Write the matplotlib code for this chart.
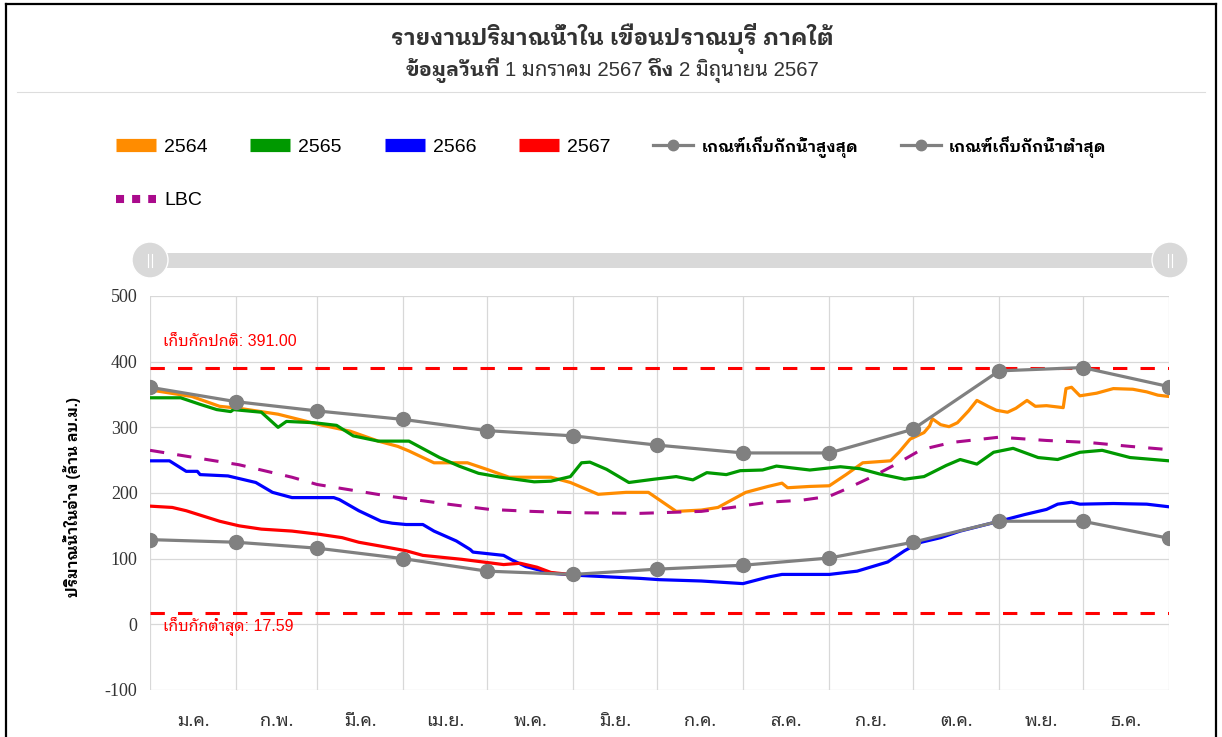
import numpy as np
import matplotlib
matplotlib.use('Agg')
import matplotlib.pyplot as plt
from matplotlib.lines import Line2D
from matplotlib.patches import Rectangle, Circle

THAI = 'Noto Sans Thai Looped'
THAI_B = 'IBM Plex Sans Thai Looped'   # has a real bold face
plt.rcParams['font.family'] = ['Liberation Sans', THAI]
plt.rcParams['axes.unicode_minus'] = False
BOLD = ['Liberation Sans', THAI_B]

# ---------------- data (day of year 2567, value in ล้าน ลบ.ม.) ----------------
months = ['ม.ค.', 'ก.พ.', 'มี.ค.', 'เม.ย.', 'พ.ค.', 'มิ.ย.',
          'ก.ค.', 'ส.ค.', 'ก.ย.', 'ต.ค.', 'พ.ย.', 'ธ.ค.']
month_start = [0, 31, 60, 91, 121, 152, 182, 213, 244, 274, 305, 335, 366]

or_day = [0, 15, 25, 32, 46, 61, 72, 82, 89, 93, 102, 114, 121, 129, 144, 151, 161, 171, 179, 189,
          198, 204, 214, 222, 227, 229, 237, 244, 250, 256, 266, 269, 273, 278, 280, 281, 284, 287, 290, 294,
          297, 301, 304, 308, 311, 315, 318, 322, 328, 329, 331, 334, 340, 346, 353, 358, 362, 366]
or_val = [357, 347, 332, 329, 320, 304, 294, 279, 271, 264, 246, 246, 236, 224, 224, 216, 198, 201, 201, 172,
          174, 178, 201, 210, 215, 208, 210, 211, 228, 246, 249, 262, 282, 292, 302, 313, 304, 301, 307, 325,
          341, 332, 326, 323, 329, 341, 332, 333, 330, 359, 361, 348, 352, 359, 358, 354, 349, 347]

gr_day = [0, 11, 18, 24, 29, 30, 40, 46, 49, 59, 67, 73, 82, 93, 104, 111, 118, 126, 138, 144,
          151, 155, 158, 164, 172, 181, 189, 195, 200, 207, 212, 220, 225, 237, 248, 255, 262, 271, 278, 286,
          291, 297, 303, 310, 319, 326, 334, 342, 352, 366]
gr_val = [345, 345, 335, 327, 324, 327, 323, 300, 309, 307, 303, 287, 279, 279, 254, 241, 230, 224, 217, 218,
          225, 246, 247, 236, 216, 221, 225, 220, 231, 228, 234, 235, 241, 235, 240, 237, 229, 221, 225, 242,
          251, 244, 262, 268, 254, 251, 262, 265, 254, 249]

bl_day = [0, 7, 13, 17, 18, 28, 32, 38, 44, 51, 66, 68, 75, 83, 87, 92, 98, 102, 110, 115,
          116, 127, 130, 135, 144, 152, 166, 176, 183, 198, 213, 222, 227, 244, 254, 265, 271, 274, 277, 284,
          291, 305, 314, 322, 326, 331, 334, 346, 358, 366]
bl_val = [249, 249, 233, 233, 228, 226, 222, 216, 201, 193, 193, 190, 173, 157, 154, 152, 152, 142, 127, 114,
          110, 105, 98, 88, 78, 75, 72, 70, 68, 66, 62, 72, 76, 76, 81, 95, 112, 119, 125, 132,
          142, 157, 167, 175, 183, 186, 183, 184, 183, 179]

rd_day = [0, 8, 13, 19, 25, 32, 40, 51, 61, 69, 75, 83, 92, 98, 112, 127, 133, 139, 144, 153]
rd_val = [180, 178, 173, 165, 157, 150, 145, 142, 137, 132, 125, 119, 112, 105, 99, 91, 93, 87, 79, 75]

rule_max = [361, 339, 325, 312, 295, 287, 273, 261, 261, 297, 386, 391, 362]
rule_min = [129, 125, 116, 100, 81, 76, 84, 90, 101, 125, 157, 157, 131]

lbc_day = [0, 32, 51, 60, 86, 107, 122, 137, 152, 176, 198, 209, 222, 234, 244, 250, 260, 268, 277, 288,
           305, 322, 337, 352, 366]
lbc_val = [265, 243, 224, 213, 195, 183, 175, 172, 170, 169, 172, 178, 186, 189, 195, 206, 226, 244, 266, 277,
           285, 280, 277, 271, 266]

normal_level = 391.00
min_level = 17.59

years = ['2564', '2565', '2566', '2567']
colors = ['#ff8c00', '#009900', '#0000ff', '#ff0000']
gray = '#808080'
purple = '#aa0a8c'
txt = '#333333'

W, H = 1222, 737
fig = plt.figure(figsize=(W / 100, H / 100), dpi=100)

# overlay in pixel coords for frame, title, slider
ov = fig.add_axes([0, 0, 1, 1])
ov.set_xlim(0, W)
ov.set_ylim(H, 0)
ov.axis('off')

ov.plot([6, 6], [4, H], color='black', lw=1.6)
ov.plot([6, 1216], [4, 4], color='black', lw=1.6)
ov.plot([1216, 1216], [4, H], color='black', lw=1.6)
ov.plot([17, 1205], [92, 92], color='#dddddd', lw=0.8)

ov.text(612, 45, 'รายงานปริมาณน้ำใน เขื่อนปราณบุรี ภาคใต้', ha='center', va='baseline',
        fontsize=16.3, fontweight='bold', family=BOLD, color=txt)

# subtitle with mixed weights
pieces = [('ข้อมูลวันที่', 'bold'), ('1 มกราคม 2567', 'normal'), ('ถึง', 'bold'), ('2 มิถุนายน 2567', 'normal')]
parts = []
for s, w in pieces:
    fam = BOLD if w == 'bold' else ['Liberation Sans', THAI]
    parts.append(ov.text(0, 76, s, ha='left', va='baseline', fontsize=14.7, fontweight=w,
                         family=fam, color=txt))
fig.canvas.draw()
rend = fig.canvas.get_renderer()
gap = 5
widths = [p.get_window_extent(rend).width for p in parts]
x = 612 - (sum(widths) + gap * (len(parts) - 1)) / 2
for p, wd in zip(parts, widths):
    p.set_x(x)
    x += wd + gap

# range slider
ov.add_patch(Rectangle((150, 253), 1020, 15, color='#d9d9d9', lw=0))
for cx in [150, 1170]:
    ov.add_patch(Circle((cx, 260), 18, facecolor='#d9d9d9', edgecolor='white', lw=1))
    ov.plot([cx - 2, cx - 2], [254, 267], color='white', lw=0.8)
    ov.plot([cx + 2, cx + 2], [254, 267], color='white', lw=0.8)

# ---------------- main chart ----------------
ax = fig.add_axes([150 / W, 47 / H, 1019 / W, 394 / H])
ax.set_xlim(0, 366)
ax.set_ylim(-100, 500)
for s in ax.spines.values():
    s.set_visible(False)

ax.set_yticks(np.arange(-100, 501, 100))
ax.set_xticks(month_start, minor=True)
mid = [(a + b) / 2 for a, b in zip(month_start[:-1], month_start[1:])]
ax.set_xticks(mid)
ax.set_xticklabels(months, family=THAI, fontsize=13, color=txt)
ax.grid(which='minor', axis='x', color='#d8d8d8', lw=0.9)
ax.grid(which='major', axis='y', color='#d8d8d8', lw=0.9)
ax.tick_params(which='both', length=0)
ax.tick_params(axis='x', pad=16)
ax.tick_params(axis='y', pad=9, labelsize=13, labelcolor=txt)
for lab in ax.get_yticklabels():
    lab.set_family(['Liberation Serif', THAI])

dash = (0, (4.7, 4.3))
ax.axhline(normal_level, color='red', lw=2.2, ls=dash, zorder=2)
ax.axhline(min_level, color='red', lw=2.2, ls=dash, zorder=2)
ax.annotate('เก็บกักปกติ: %.2f' % normal_level, xy=(0, normal_level), xytext=(9.4, 19),
            textcoords='offset points', va='center', ha='left', color='red', fontsize=11.5)
ax.annotate('เก็บกักต่ำสุด: %.2f' % min_level, xy=(0, min_level), xytext=(9.4, -10),
            textcoords='offset points', va='center', ha='left', color='red', fontsize=11.5)

series = [(or_day, or_val), (gr_day, gr_val), (bl_day, bl_val), (rd_day, rd_val)]
for (d, v), c in zip(series, colors):
    ax.plot(d, v, color=c, lw=2.3, zorder=3)
ax.plot(lbc_day, lbc_val, color=purple, lw=2.2, ls=dash, zorder=3)
ax.plot(month_start, rule_max, color=gray, lw=2.3, marker='o', ms=10, zorder=4)
ax.plot(month_start, rule_min, color=gray, lw=2.3, marker='o', ms=10, zorder=4)

ax.set_ylabel('ปริมาณน้ำในอ่าง (ล้าน ลบ.ม.)', fontweight='bold', family=BOLD, fontsize=10.8, color='black')
ax.yaxis.set_label_coords(-69 / 1019, 0.49)

# ---------------- legend ----------------
h_year = [Line2D([], [], color=c, lw=9.5, solid_capstyle='butt') for c in colors]
h_max = Line2D([], [], color=gray, lw=2.3, marker='o', ms=7.5)
h_min = Line2D([], [], color=gray, lw=2.3, marker='o', ms=7.5)
h_lbc = Line2D([], [], color=purple, lw=5.8, ls=(0, (1, 1)), dash_capstyle='butt')
handles = [h_year[0], h_lbc, h_year[1], h_year[2], h_year[3], h_max, h_min]
labels = ['2564', 'LBC', '2565', '2566', '2567', 'เกณฑ์เก็บกักน้ำสูงสุด', 'เกณฑ์เก็บกักน้ำต่ำสุด']
leg = fig.legend(handles, labels, loc='upper left', bbox_to_anchor=(116 / W, 1 - 136 / H),
                 ncol=6, frameon=False, fontsize=14, handlelength=2.06, handletextpad=0.41,
                 columnspacing=2.2, labelspacing=1.85, borderpad=0, borderaxespad=0, numpoints=1)
for t, lab in zip(leg.get_texts(), labels):
    t.set_color('black')
    if not lab[0].isascii():
        t.set_family(BOLD)
        t.set_fontweight('bold')
        t.set_fontsize(11.5)

fig.savefig('out.png', dpi=100)
